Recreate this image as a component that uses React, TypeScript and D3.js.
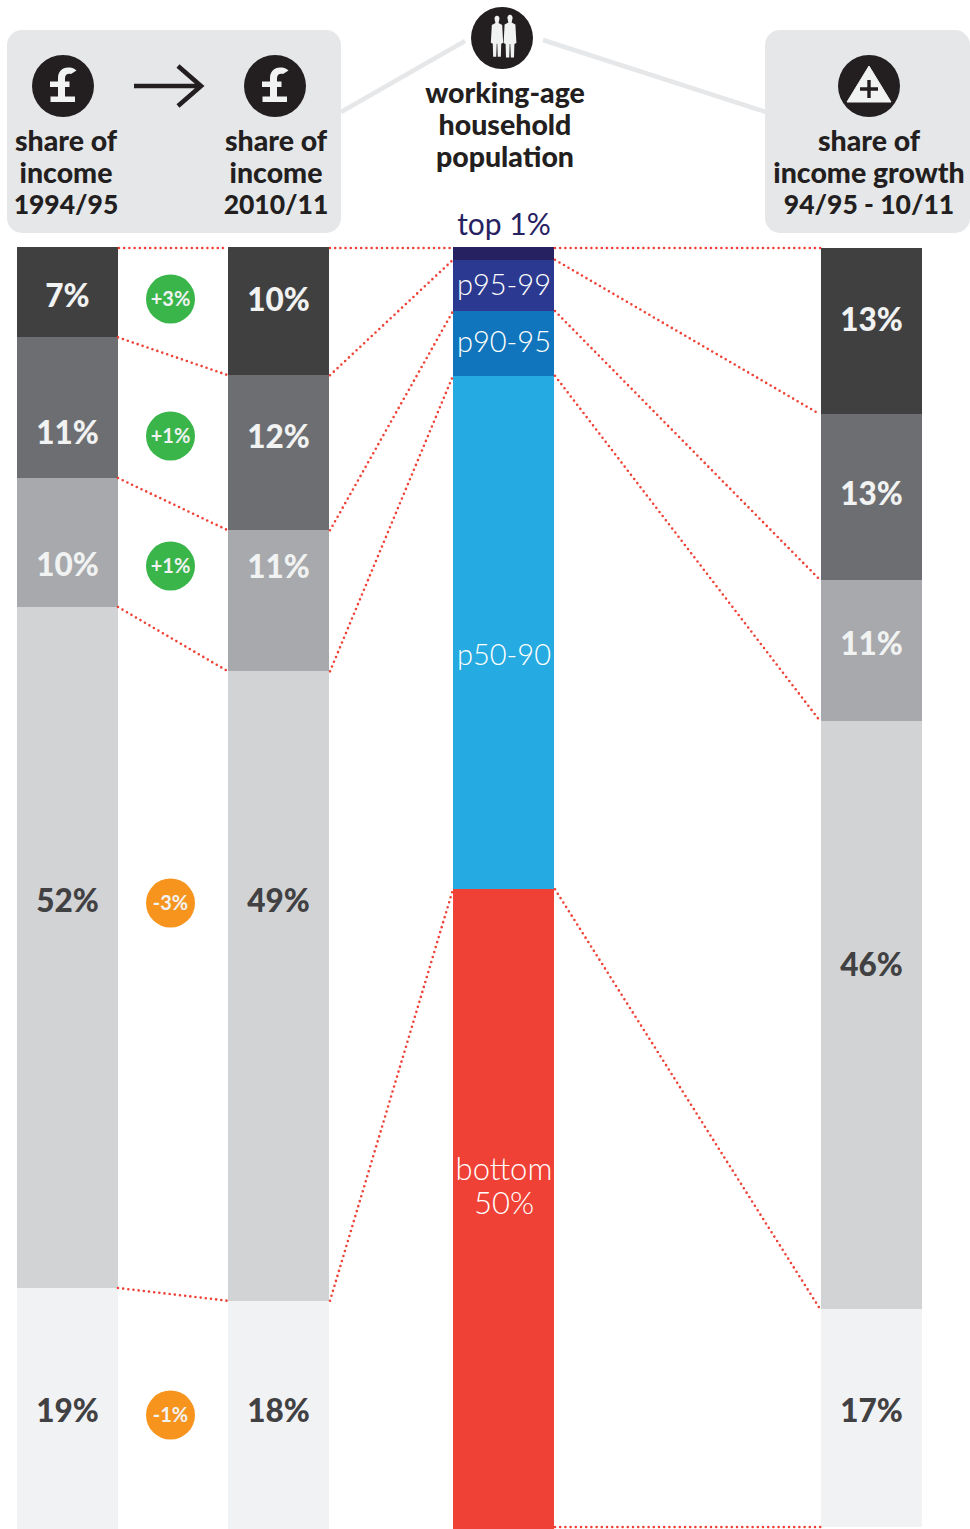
import React from "react";
import * as d3 from "d3";

const shares1994 = [7.05, 10.97, 10.06, 53.12, 18.8];
const labels1994 = ["7%", "11%", "10%", "52%", "19%"];
const shares2010 = [10.0, 12.1, 11.0, 49.1, 17.8];
const labels2010 = ["10%", "12%", "11%", "49%", "18%"];
const sharesGrowth = [13.0, 12.95, 11.03, 45.97, 17.05];
const labelsGrowth = ["13%", "13%", "11%", "46%", "17%"];
const populationShares = [1, 4, 5.05, 40.05, 49.9];
const changeLabels = ["+3%", "+1%", "+1%", "-3%", "-1%"];
const changeDirections = [1, 1, 1, -1, -1];

const GREYS = ["#404041", "#6d6e71", "#a7a9ac", "#d1d3d4", "#f1f2f4"];
const GREY_TEXT = ["#f1f2f2", "#f1f2f2", "#f1f2f2", "#414042", "#414042"];
const POP = ["#262262", "#2b3990", "#1075bc", "#25aae1", "#ef4136"];
const FONT = "Lato, 'Open Sans', sans-serif";
const INK = "#231f20";
const RED = "#ef4136";
const PANEL = "#e6e7e9";

const W = 101;
const X = { a: 17, b: 228, pop: 453, growth: 821 };
const badgeY = [299, 436, 566, 903, 1415];
const labelYa = [296, 433, 565, 901, 1411];
const labelYb = [300, 437, 567, 901, 1411];
const labelYg = [320, 494, 644, 965, 1411];

const yMain = d3.scaleLinear().domain([0, 100]).range([247, 1529]);
const yGrowth = d3.scaleLinear().domain([0, 100]).range([248, 1527]);

function cumulate(values: number[]) {
  const total = d3.sum(values);
  const k = 100 / total;
  const out = [0];
  values.forEach((v) => out.push(out[out.length - 1] + v * k));
  return out;
}

function Column({ x, values, colors, y }: any) {
  const c = cumulate(values);
  return (
    <g>
      {values.map((_: number, i: number) => (
        <rect key={i} x={x} width={W} y={Math.round(y(c[i]))} height={Math.round(y(c[i + 1])) - Math.round(y(c[i]))} fill={colors[i]} />
      ))}
    </g>
  );
}

function Dotted({ x1, y1, x2, y2 }: any) {
  return (
    <line x1={x1} y1={y1} x2={x2} y2={y2} stroke={RED} strokeWidth={2.6} strokeLinecap="round" strokeDasharray="0 5.2" />
  );
}

function Lines({ x, ys, size = 28.5, weight = 900, fill = INK }: any) {
  return (
    <g>
      {ys.map((d: any, i: number) => (
        <text key={i} x={x} y={d[0]} textAnchor="middle" fontFamily={FONT} fontSize={d[2] || size} fontWeight={weight} fill={fill}>
          {d[1]}
        </text>
      ))}
    </g>
  );
}

function Pound({ cx, cy }: any) {
  return (
    <g transform={`translate(${cx},${cy})`}>
      <circle r={31} fill={INK} />
      <path
        d="M-12.5 16 H12 V10.5 H2 V1 H6.5 V-4.5 H2 V-8 C2 -11.5 5 -13 8 -12 L13.5 -15.5 C11 -18 8 -18.5 5 -18.5 C-1 -18.5 -5 -14 -5 -8 V-4.5 H-13 V1 H-5 V10.5 H-12.5 Z"
        fill="#f1f2f2"
      />
    </g>
  );
}

function Person({ x, scale }: any) {
  return (
    <path
      transform={`translate(${x},37) scale(${scale})`}
      fill="#f1f2f2"
      d="M-2.4 -18 a2.6 3 0 1 1 4.8 0 L1.6 -14.6 L5.4 -12.6 L6.4 6 L4.4 7 L4 20.5 L0.8 20.5 L0.3 7 L-0.3 7 L-0.8 20.5 L-4 20.5 L-4.4 7 L-6.4 6 L-5.4 -12.6 L-1.6 -14.6 Z"
    />
  );
}

export default function App() {
  const ca = cumulate(shares1994);
  const cb = cumulate(shares2010);
  const cp = cumulate(populationShares);
  const cg = cumulate(sharesGrowth);
  return (
    <svg width={970} height={1529} viewBox="0 0 970 1529" style={{ position: "absolute", left: 0, top: 0, display: "block" }}>
      <rect width={970} height={1529} fill="#fff" />

      <line x1={341} y1={112} x2={465} y2={41} stroke={PANEL} strokeWidth={4.5} />
      <line x1={543} y1={40} x2={766} y2={112} stroke={PANEL} strokeWidth={4.5} />

      <rect x={7} y={30} width={334} height={203} rx={15} fill={PANEL} />
      <rect x={765} y={30} width={205} height={203} rx={15} fill={PANEL} />

      <Pound cx={63} cy={86} />
      <Pound cx={275} cy={86} />
      <path d="M134 86 H201 M178 66 L201 86 L178 106" fill="none" stroke={INK} strokeWidth={4.6} />

      <g transform="translate(869,86)">
        <circle r={31} fill={INK} />
        <path d="M0 -20 L22 16 H-22 Z" fill="#f1f2f2" stroke="#f1f2f2" strokeWidth={1} strokeLinejoin="round" />
        <path d="M0 -6 V12 M-9 3 H9" stroke={INK} strokeWidth={3.4} fill="none" />
      </g>

      <g>
        <circle cx={502} cy={38} r={31} fill={INK} />
        <Person x={497} scale={0.96} />
        <Person x={510} scale={1.0} />
      </g>

      <Lines x={66} ys={[[151, "share of"], [183, "income"], [214, "1994/95", 26.5]]} />
      <Lines x={276} ys={[[151, "share of"], [183, "income"], [214, "2010/11", 26.5]]} />
      <Lines x={505} ys={[[103, "working-age"], [135, "household"], [167, "population"]]} />
      <Lines x={869} ys={[[151, "share of"], [183, "income growth"], [214, "94/95 - 10/11", 26.5]]} />

      <Column x={X.a} values={shares1994} colors={GREYS} y={yMain} />
      <Column x={X.b} values={shares2010} colors={GREYS} y={yMain} />
      <Column x={X.pop} values={populationShares} colors={POP} y={yMain} />
      <Column x={X.growth} values={sharesGrowth} colors={GREYS} y={yGrowth} />

      {shares1994.slice(0, -1).map((_, i) => (
        <Dotted key={i} x1={X.a + W} y1={yMain(ca[i + 1])} x2={X.b} y2={yMain(cb[i + 1])} />
      ))}
      <Dotted x1={X.a + W + 1} y1={248} x2={X.b} y2={248} />
      <Dotted x1={X.b + W + 1} y1={248} x2={X.pop} y2={248} />
      {shares2010.slice(0, -1).map((_, i) => (
        <Dotted key={i} x1={X.b + W + 1} y1={yMain(cb[i + 1])} x2={X.pop} y2={yMain(cp[i + 1])} />
      ))}
      <Dotted x1={X.pop + W + 1} y1={248} x2={X.growth} y2={248} />
      {populationShares.slice(0, -1).map((_, i) => (
        <Dotted key={i} x1={X.pop + W + 1} y1={yMain(cp[i + 1])} x2={X.growth - 1} y2={yGrowth(cg[i + 1])} />
      ))}
      <Dotted x1={X.pop + W + 1} y1={1527} x2={X.growth} y2={1527} />

      {[
        { x: X.a, labels: labels1994, ys: labelYa },
        { x: X.b, labels: labels2010, ys: labelYb },
        { x: X.growth, labels: labelsGrowth, ys: labelYg },
      ].map((col, k) =>
        col.labels.map((t, i) => (
          <text
            key={`${k}-${i}`}
            x={col.x + W / 2}
            y={col.ys[i]}
            dy="0.36em"
            textAnchor="middle"
            fontFamily={FONT}
            fontWeight={900}
            fontSize={31.5}
            fill={GREY_TEXT[i]}
          >
            {t}
          </text>
        ))
      )}

      {changeLabels.map((t, i) => (
        <g key={i} transform={`translate(170.5,${badgeY[i]})`}>
          <circle r={24.5} fill={changeDirections[i] > 0 ? "#39b54a" : "#f7941e"} />
          <text textAnchor="middle" dy="0.36em" fontFamily={FONT} fontWeight={700} fontSize={20} fill="#f1f2f2">
            {t}
          </text>
        </g>
      ))}

      <text x={504} y={235} textAnchor="middle" fontFamily={FONT} fontWeight={400} fontSize={30} fill="#262262">top 1%</text>
      <text x={504} y={295} textAnchor="middle" fontFamily={FONT} fontWeight={300} fontSize={29} fill="#ffffff">p95-99</text>
      <text x={504} y={352} textAnchor="middle" fontFamily={FONT} fontWeight={300} fontSize={29} fill="#ffffff">p90-95</text>
      <text x={504} y={665} textAnchor="middle" fontFamily={FONT} fontWeight={300} fontSize={29} fill="#ffffff">p50-90</text>
      <text textAnchor="middle" fontFamily={FONT} fontWeight={300} fontSize={31} fill="#ffffff">
        <tspan x={504} y={1180}>bottom</tspan>
        <tspan x={504} y={1214}>50%</tspan>
      </text>
    </svg>
  );
}
